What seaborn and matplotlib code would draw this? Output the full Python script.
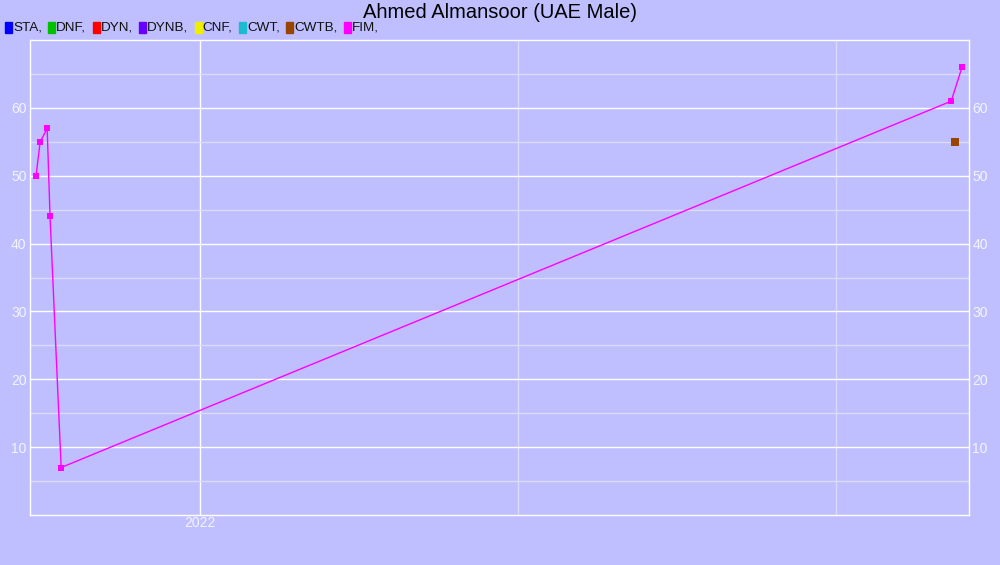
import matplotlib
matplotlib.use("Agg")
import matplotlib.pyplot as plt
import seaborn as sns
import pandas as pd
from matplotlib.patches import Rectangle

# Data (x in decimal years)
fim_x = [2021.484, 2021.497, 2021.519, 2021.528, 2021.563, 2024.362, 2024.396]
fim_y = [50, 55, 57, 44, 7, 61, 66]
cwtb_x = [2024.374]
cwtb_y = [55]

disciplines = ["STA", "DNF", "DYN", "DYNB", "CNF", "CWT", "CWTB", "FIM"]
colors = ["#0000FF", "#00C000", "#FF0000", "#6600FF", "#EEEE00", "#1CBCD0", "#994400", "#FF00FF"]
year_ticks = [2022]
minor_x = [2023, 2024]
title = "Ahmed Almansoor (UAE Male)"

sns.set_theme(style="white")
plt.rcParams['font.family'] = ['Liberation Sans', 'DejaVu Sans']

W, H = 1000, 565
bg = "#BFBFFF"
fig = plt.figure(figsize=(W / 100, H / 100), dpi=100, facecolor=bg)
ax = fig.add_axes([0.03, 0.0885, 0.939, 0.8405])
ax.set_facecolor(bg)

df_fim = pd.DataFrame({"x": fim_x, "y": fim_y})
df_cwtb = pd.DataFrame({"x": cwtb_x, "y": cwtb_y})

sns.lineplot(data=df_fim, x="x", y="y", ax=ax, color=colors[7], lw=1,
             marker="s", markersize=5, markeredgewidth=0, zorder=3)
sns.scatterplot(data=df_cwtb, x="x", y="y", ax=ax, color=colors[6], marker="s",
                s=28, linewidth=0, zorder=3)

ax.set_xlim(2021.465, 2024.418)
ax.set_ylim(0, 70)
ax.set_xlabel("")
ax.set_ylabel("")

ax.set_xticks(year_ticks)
ax.set_xticklabels([str(t) for t in year_ticks])
ax.set_xticks(minor_x, minor=True)
ax.set_yticks([10, 20, 30, 40, 50, 60])
ax.set_yticks([5, 15, 25, 35, 45, 55, 65], minor=True)

ax.grid(True, which="major", color="white", lw=1)
ax.grid(True, which="minor", color="#DCDCF8", lw=1)
ax.set_axisbelow(True)

ax.tick_params(axis="both", which="both", length=0, labelcolor="#F4F4FF", labelsize=10)
ax.tick_params(axis="y", labelright=True, right=False, pad=2.5)
ax.tick_params(axis="x", pad=1)
for s in ax.spines.values():
    s.set_color("white")
    s.set_linewidth(1)

fig.text(0.5, 1 - 12 / H, title, ha="center", va="center", fontsize=14.5, color="black")

# custom legend row
renderer = fig.canvas.get_renderer()
x = 5.0
yc = 27.5
for name, c in zip(disciplines, colors):
    fig.patches.append(Rectangle((x / W, 1 - (yc + 5.5) / H), 7 / W, 11 / H,
                                 transform=fig.transFigure, color=c, figure=fig))
    t = fig.text((x + 8) / W, 1 - yc / H, name + ",", ha="left", va="center",
                 fontsize=9.7, color="#111111")
    bb = t.get_window_extent(renderer)
    x = x + 8 + bb.width + 6.3

fig.savefig("out.png", dpi=100, facecolor=bg)
